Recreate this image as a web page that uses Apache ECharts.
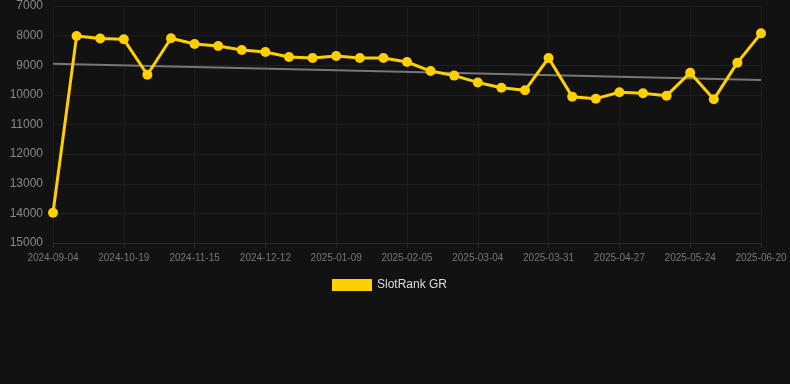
<!DOCTYPE html>
<html><head><meta charset="utf-8">
<script src="https://cdn.jsdelivr.net/npm/echarts@6/dist/echarts.min.js"></script>
<style>html,body{margin:0;padding:0;background:#121212;}#c{width:790px;height:384px;}</style>
</head><body><div id="c"></div>
<script>
const dates = ["2024-09-04","2024-10-01","2024-10-10","2024-10-19","2024-10-28","2024-11-06","2024-11-15","2024-11-24","2024-12-03","2024-12-12","2024-12-21","2024-12-31","2025-01-09","2025-01-18","2025-01-27","2025-02-05","2025-02-14","2025-02-23","2025-03-04","2025-03-13","2025-03-22","2025-03-31","2025-04-09","2025-04-18","2025-04-27","2025-05-06","2025-05-15","2025-05-24","2025-06-02","2025-06-11","2025-06-20"];
const ranks = [13980,8010,8100,8125,9320,8090,8285,8350,8485,8555,8720,8755,8690,8755,8755,8890,9195,9350,9580,9757,9846,8755,10060,10128,9913,9947,10027,9251,10150,8913,7923];
const trendEnds = [8946,9498];
const yTicks = {min:7000,max:15000,step:1000};

const chart = echarts.init(document.getElementById('c'));
chart.setOption({
  backgroundColor:'#121212',
  animation:false,
  grid:{left:53,right:29,top:6,bottom:141},
  legend:{
    data:['SlotRank GR'],bottom:88,left:327,
    itemWidth:40,itemHeight:12,itemGap:10,
    textStyle:{color:'#dddddd',fontSize:12,fontFamily:'Arial, Liberation Sans, sans-serif'},
    icon:'rect'
  },
  xAxis:{
    type:'category',data:dates,boundaryGap:false,
    axisLine:{lineStyle:{color:'#2a2a2a'}},
    axisTick:{show:true,interval:2,lineStyle:{color:'#2a2a2a'}},
    axisLabel:{interval:2,color:'#777777',fontSize:10,margin:10,fontFamily:'Arial, Liberation Sans, sans-serif'},
    splitLine:{show:true,interval:2,lineStyle:{color:'#1d1d1d'}}
  },
  yAxis:{
    type:'value',inverse:true,min:yTicks.min,max:yTicks.max,interval:yTicks.step,
    axisLine:{show:false},axisTick:{show:false},
    axisLabel:{color:'#888888',fontSize:12,margin:10,fontFamily:'Arial, Liberation Sans, sans-serif',formatter:v=>String(v)},
    splitLine:{lineStyle:{color:'#1f1f1f'}}
  },
  series:[
    {name:'Trend',type:'line',data:[[dates[0],trendEnds[0]],[dates[dates.length-1],trendEnds[1]]],
     symbol:'none',lineStyle:{color:'#777777',width:2},z:1,silent:true},
    {name:'SlotRank GR',type:'line',data:ranks,
     symbol:'circle',symbolSize:10,
     itemStyle:{color:'#FFD000'},lineStyle:{color:'#FFD000',width:3},z:2}
  ]
});
</script></body></html>
